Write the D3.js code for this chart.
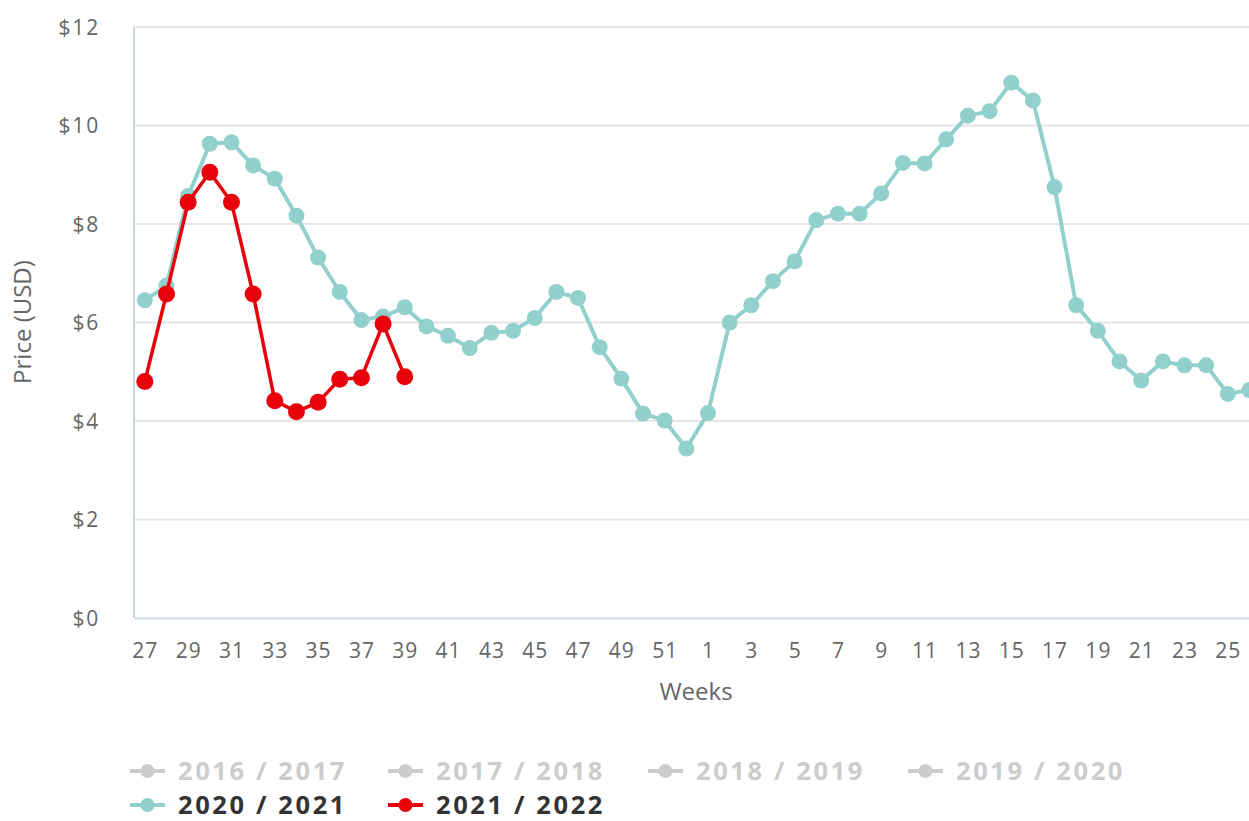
<!DOCTYPE html>
<html>
<head>
<meta charset="utf-8">
<script src="https://cdn.jsdelivr.net/npm/d3@7"></script>
<style>
  html, body { margin: 0; padding: 0; background: #ffffff; }
  svg { display: block; }
  text { font-family: "Open Sans", "DejaVu Sans", sans-serif; }
</style>
</head>
<body>
<svg id="chart" width="1249" height="821"></svg>
<script>
// ---- Data ----
const weeks = [27,28,29,30,31,32,33,34,35,36,37,38,39,40,41,42,43,44,45,46,47,48,49,50,51,52,
               1,2,3,4,5,6,7,8,9,10,11,12,13,14,15,16,17,18,19,20,21,22,23,24,25,26];
const xTickLabels = [27,29,31,33,35,37,39,41,43,45,47,49,51,1,3,5,7,9,11,13,15,17,19,21,23,25];
const yTicks = [0,2,4,6,8,10,12];

const season2021 = [6.45,6.75,8.57,9.63,9.66,9.19,8.92,8.17,7.32,6.62,6.05,6.12,6.31,5.92,5.73,5.48,5.79,5.83,6.09,6.62,6.50,5.50,4.86,4.15,4.01,3.44,
                    4.16,6.00,6.35,6.84,7.24,8.08,8.21,8.21,8.62,9.24,9.23,9.72,10.20,10.29,10.87,10.51,8.75,6.35,5.83,5.21,4.82,5.21,5.13,5.13,4.55,4.63];
const season2122 = [4.80,6.58,8.44,9.05,8.44,6.58,4.41,4.19,4.38,4.85,4.88,5.97,4.90];

const legendItems = [
  {name: "2016 / 2017", color: "#cccccc", active: false},
  {name: "2017 / 2018", color: "#cccccc", active: false},
  {name: "2018 / 2019", color: "#cccccc", active: false},
  {name: "2019 / 2020", color: "#cccccc", active: false},
  {name: "2020 / 2021", color: "#92d0ce", active: true},
  {name: "2021 / 2022", color: "#e8000b", active: true}
];

// ---- Layout ----
const svg = d3.select("#chart");
const plotLeft = 134, plotTop = 27, plotBottom = 618;
const band = 21.66;
const plotRight = plotLeft + band * weeks.length;

const x = d3.scalePoint()
  .domain(weeks.map((w, i) => i))
  .range([plotLeft, plotRight])
  .padding(0.5);
const y = d3.scaleLinear().domain([0, 12]).range([plotBottom, plotTop]);

// grid lines
svg.append("g").selectAll("line")
  .data(yTicks.filter(d => d > 0))
  .join("line")
  .attr("x1", plotLeft).attr("x2", plotRight)
  .attr("y1", d => y(d)).attr("y2", d => y(d))
  .attr("stroke", "#e6e6e6").attr("stroke-width", 2);

// y axis labels
const yAxis = d3.axisLeft(y).tickValues(yTicks).tickFormat(d => "$" + d).tickSize(0).tickPadding(0);
const gy = svg.append("g").attr("transform", `translate(${plotLeft - 34},0)`).call(yAxis);
gy.select(".domain").remove();
gy.selectAll("text")
  .attr("fill", "#666666").attr("font-size", 21).attr("letter-spacing", "1.8px")
  .attr("dy", "0.35em").attr("font-family", "Open Sans");

// left axis line
svg.append("line")
  .attr("x1", plotLeft).attr("x2", plotLeft)
  .attr("y1", plotTop).attr("y2", plotBottom)
  .attr("stroke", "#ccd6eb").attr("stroke-width", 2);

// x axis
const labelSet = new Set(xTickLabels);
const xAxis = d3.axisBottom(x)
  .tickValues(weeks.map((w, i) => i).filter(i => labelSet.has(weeks[i])))
  .tickFormat(i => weeks[i]).tickSize(0).tickPadding(0);
const gx = svg.append("g").attr("transform", `translate(0,${plotBottom})`).call(xAxis);
gx.select(".domain").attr("stroke", "#ccd6eb").attr("stroke-width", 2);
gx.selectAll("text")
  .attr("fill", "#666666").attr("font-size", 21).attr("letter-spacing", "1px")
  .attr("y", 40).attr("dy", 0).attr("font-family", "Open Sans");

// axis titles
svg.append("text")
  .attr("x", 696).attr("y", 700)
  .attr("text-anchor", "middle").attr("fill", "#666666").attr("font-size", 24)
  .text("Weeks");
svg.append("text")
  .attr("transform", "translate(31,322) rotate(-90)")
  .attr("text-anchor", "middle").attr("fill", "#666666").attr("font-size", 24)
  .text("Price (USD)");

// series
function drawSeries(values, color, lw, r) {
  const line = d3.line().x((d, i) => x(i)).y(d => y(d));
  const g = svg.append("g");
  g.append("path").datum(values)
    .attr("d", line).attr("fill", "none")
    .attr("stroke", color).attr("stroke-width", lw)
    .attr("stroke-linejoin", "round").attr("stroke-linecap", "round");
  g.selectAll("circle").data(values).join("circle")
    .attr("cx", (d, i) => x(i)).attr("cy", d => y(d))
    .attr("r", r).attr("fill", color);
}
drawSeries(season2021, "#92d0ce", 4, 8);
drawSeries(season2122, "#e8000b", 3.5, 8.5);

// legend
const legendPos = [
  {x: 130, y: 771}, {x: 388, y: 771}, {x: 648, y: 771}, {x: 908, y: 771},
  {x: 130, y: 805}, {x: 388, y: 805}
];
const lg = svg.append("g").selectAll("g").data(legendItems).join("g")
  .attr("transform", (d, i) => `translate(${legendPos[i].x},${legendPos[i].y})`);
lg.append("line")
  .attr("x1", 0).attr("x2", 35).attr("y1", 0).attr("y2", 0)
  .attr("stroke", d => d.color).attr("stroke-width", 4);
lg.append("circle")
  .attr("cx", 17.5).attr("cy", 0).attr("r", 7).attr("fill", d => d.color);
lg.append("text")
  .attr("x", 48).attr("y", 0).attr("dy", "0.36em")
  .attr("font-size", 25.5).attr("font-weight", "bold").attr("letter-spacing", "2.6px")
  .attr("fill", d => d.active ? "#333333" : "#cccccc")
  .text(d => d.name);
</script>
</body>
</html>
